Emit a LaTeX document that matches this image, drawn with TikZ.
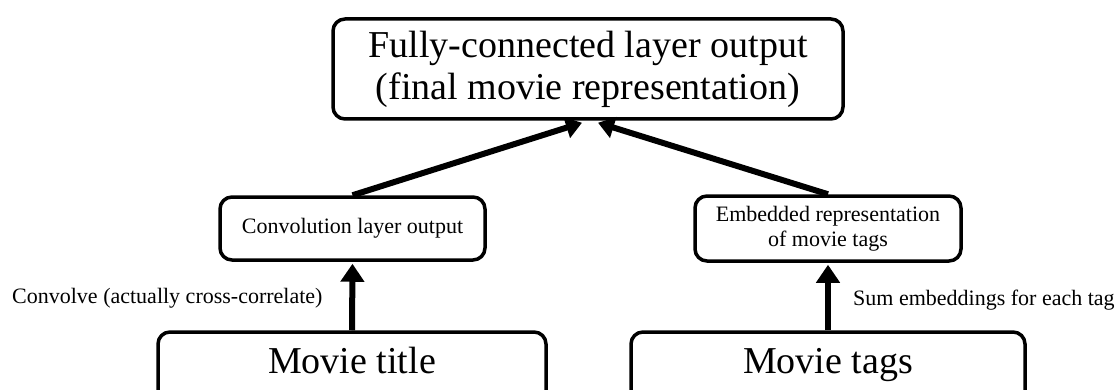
\documentclass[tikz,border=0pt]{standalone}
\usepackage{fontspec}
\setmainfont{Liberation Serif}
\usetikzlibrary{arrows.meta,calc}
\begin{document}
\begin{tikzpicture}[x=1pt,y=-1pt,
  box/.style={draw=black, line width=3.5pt, rounded corners=12pt, inner sep=0pt, align=center},
  bigtext/.style={font=\fontsize{38}{42}\selectfont},
  smalltext/.style={font=\fontsize{22}{25}\selectfont},
  arr/.style={line width=6pt, -{Triangle[width=23pt,length=18pt]}},
  sarr/.style={line width=6pt, -{Triangle[width=21pt,length=16pt]}},
  lbl/.style={smalltext, anchor=base west, inner sep=0pt}
]
\useasboundingbox (0,0) rectangle (1118,390);
\clip (0,0) rectangle (1118,390);
\node[box,bigtext,minimum width=510pt,minimum height=100pt] (fc) at (588,69) {Fully-connected layer output\\(final movie representation)};
\node[box,smalltext,minimum width=265pt,minimum height=63pt] (conv) at (352.5,228.5) {Convolution layer output};
\node[box,smalltext,minimum width=266pt,minimum height=65pt] (emb) at (828,228.5) {Embedded representation\\of movie tags};
\node[box,bigtext,minimum width=388pt,minimum height=88pt,text height=26pt,text depth=32pt] (title) at (352,376) {Movie title};
\node[box,bigtext,minimum width=394pt,minimum height=88pt,text height=26pt,text depth=32pt] (tags) at (828,376) {Movie tags};
\node[lbl] (convlbl) at (12,303) {Convolve (actually cross-correlate)};
\node[lbl] (sumlbl) at (853,305) {Sum embeddings for each tag};
\draw[arr] (title.north) -- ($(conv.south)+(0,2)$);
\draw[arr] (tags.north) -- ($(emb.south)+(0,2)$);
\draw[sarr] (conv.north) -- ($(fc.south)+(-6,2)$);
\draw[sarr] (emb.north) -- ($(fc.south)+(10,2)$);
\end{tikzpicture}
\end{document}
